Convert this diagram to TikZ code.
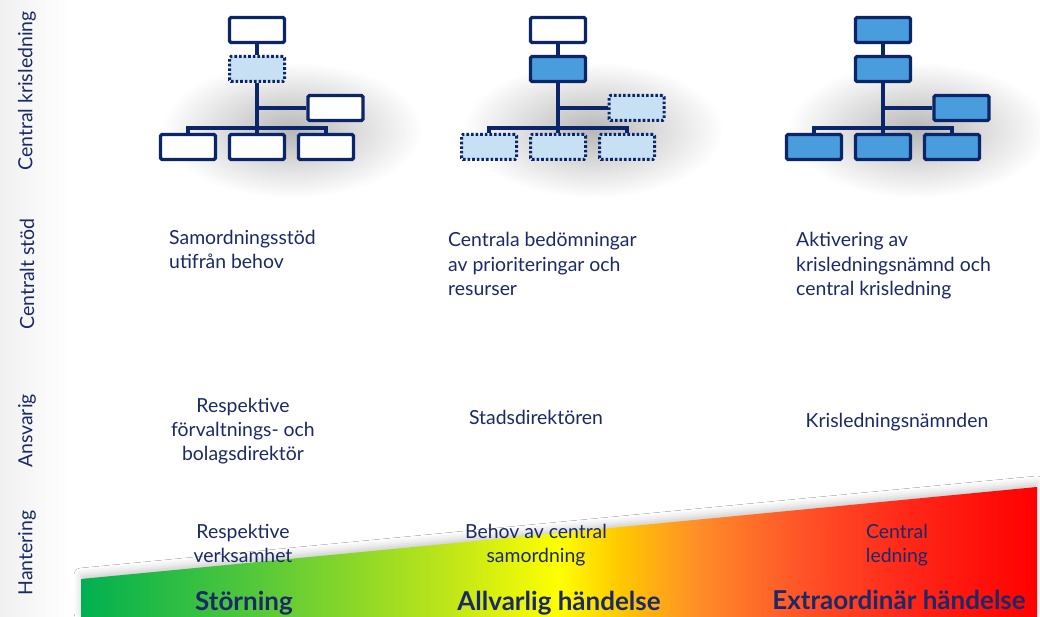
\documentclass[tikz,border=0pt]{standalone}
\usepackage{fontspec}
\setmainfont{Lato}
\usetikzlibrary{fadings,shadows.blur}
\definecolor{navy}{HTML}{0A2568}
\definecolor{txt}{HTML}{1B2A66}
\definecolor{boxblue}{HTML}{4A9DDC}
\definecolor{boxlight}{HTML}{C7E0F4}
\definecolor{g0}{HTML}{00B050}
\definecolor{g1}{HTML}{4CC63C}
\definecolor{g2}{HTML}{C0E618}
\definecolor{g3}{HTML}{FFFF00}
\definecolor{g4}{HTML}{FFC800}
\definecolor{g5}{HTML}{FF8C28}
\definecolor{g6}{HTML}{FF5428}
\definecolor{g7}{HTML}{FF2A1A}
\definecolor{g8}{HTML}{FF0000}
\pgfdeclarehorizontalshading{risk}{100bp}{color(0bp)=(g0); color(25bp)=(g0); color(33.3bp)=(g1); color(44.3bp)=(g2); color(50bp)=(g3); color(53.2bp)=(g4); color(57.4bp)=(g5); color(62.6bp)=(g6); color(67.8bp)=(g7); color(75bp)=(g8); color(100bp)=(g8)}
\tikzfading[name=softglow, inner color=transparent!72, outer color=transparent!100]
\tikzset{
  box/.style={draw=navy, line width=3.3pt, rounded corners=1.5pt, minimum width=55pt, minimum height=25pt, inner sep=0pt},
  plainbox/.style={box, fill=white},
  bluebox/.style={box, fill=boxblue},
  dotbox/.style={box, fill=boxlight, line width=3pt, dash pattern=on 2.6pt off 2pt},
  conn/.style={draw=navy, line width=3.2pt},
  lbl/.style={text=txt, font=\fontsize{19.4}{24}\selectfont, inner sep=0pt},
  side/.style={lbl, font=\fontsize{19.5}{24}\selectfont, rotate=90},
  big/.style={text=txt, font=\fontsize{26}{28}\selectfont\bfseries, inner sep=0pt},
}
\newcommand\orgchart[6]{%
\begin{scope}[shift={(#2,0)}]
\fill[black, path fading=softglow] (35,130) ellipse [x radius=130, y radius=68];
\node[#3] (#1t) at (0,30) {};
\node[#4] (#1m) at (0,69) {};
\node[#5] (#1r) at (78.5,108) {};
\node[#6] (#1a) at (-69,147) {};
\node[#6] (#1b) at (0,147) {};
\node[#6] (#1c) at (69,147) {};
\coordinate (#1bus) at (0,128);
\draw[conn] (#1t) -- (#1m);
\draw[conn] (#1m) -- (#1b);
\draw[conn] (#1m.south |- #1r.west) -- (#1r);
\draw[conn] (#1a.north) -- (#1a.north |- #1bus) -- (#1c.north |- #1bus) -- (#1c.north);
\end{scope}}
\begin{document}
\begin{tikzpicture}[x=1pt, y=-1pt]
\useasboundingbox (0,0) rectangle (1040,617);
\fill[white] (0,0) rectangle (1040,617);
% left band shade
\fill[black, opacity=0.06, path fading=east] (0,0) rectangle (70,617);

% org charts
\orgchart{A}{257}{plainbox}{dotbox}{plainbox}{plainbox}
\orgchart{B}{558}{plainbox}{bluebox}{dotbox}{dotbox}
\orgchart{C}{883}{bluebox}{bluebox}{bluebox}{bluebox}

% wedge
\shade[shading=risk, blur shadow={shadow xshift=0pt, shadow yshift=4pt, shadow blur radius=7pt, shadow opacity=20}]
  (81,617) -- (81,579) -- (1037,487) -- (1037,617) -- cycle;

% side labels
\node[side] (s1) at (27,91) {Central krisledning};
\node[side] (s2) at (27,274) {Centralt stöd};
\node[side] (s3) at (27,431) {Ansvarig};
\node[side] (s4) at (27,553) {Hantering};

% central support (anchor = baseline of last line)
\node[lbl, align=left, anchor=base west] (c1) at (169,269) {Samordningsstöd\\utifrån behov};
\node[lbl, align=left, anchor=base west] (c2) at (448,295) {Centrala bedömningar\\av prioriteringar och\\resurser};
\node[lbl, align=left, anchor=base west] (c3) at (796,295) {Aktivering av\\krisledningsnämnd och\\central krisledning};

% responsible
\node[lbl, align=center, anchor=base] (r1) at (243,460) {Respektive\\förvaltnings- och\\bolagsdirektör};
\node[lbl, anchor=base] (r2) at (536,424) {Stadsdirektören};
\node[lbl, anchor=base] (r3) at (897,427) {Krisledningsnämnden};

% handling
\node[lbl, align=center, anchor=base] (h1) at (243,562) {Respektive\\verksamhet};
\node[lbl, align=center, anchor=base] (h2) at (536,562) {Behov av central\\samordning};
\node[lbl, align=center, anchor=base] (h3) at (897,562) {Central\\ledning};

% levels
\node[big, anchor=base] (l1) at (244,610) {Störning};
\node[big, anchor=base] (l2) at (559,610) {Allvarlig händelse};
\node[big, anchor=base] (l3) at (899,609) {Extraordinär händelse};
\end{tikzpicture}
\end{document}
